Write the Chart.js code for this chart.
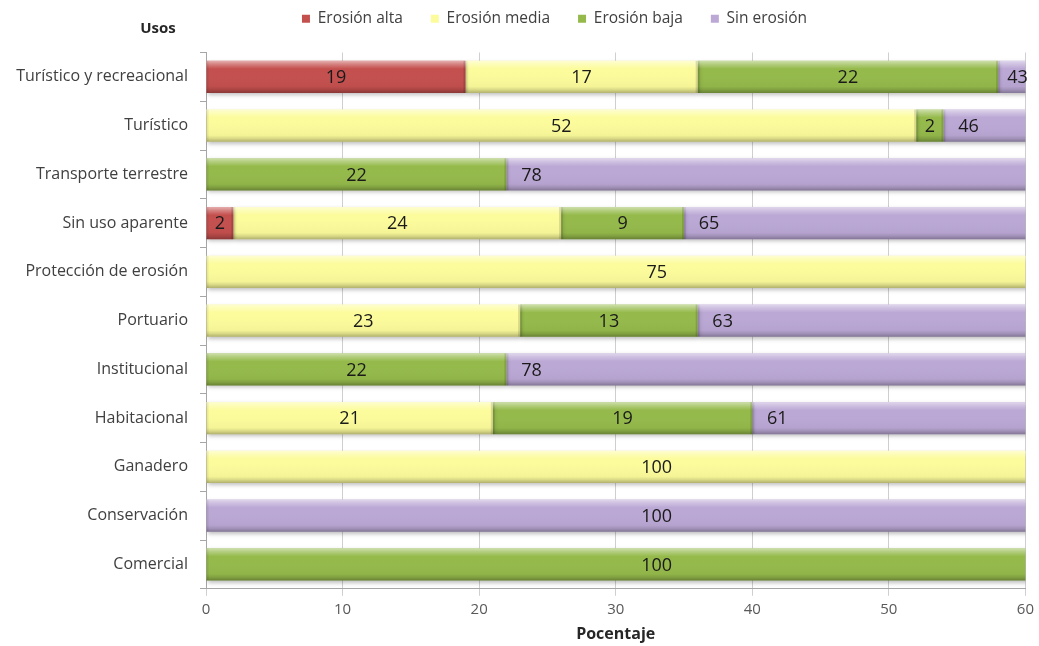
<!DOCTYPE html>
<html>
<head>
<meta charset="utf-8">
<title>Usos y erosión</title>
<script src="https://cdn.jsdelivr.net/npm/chart.js@4.4.1/dist/chart.umd.min.js"></script>
<style>
  html, body { margin: 0; padding: 0; background: #ffffff; }
  #wrap { width: 1039px; height: 646px; position: relative; }
</style>
</head>
<body>
<div id="wrap"><canvas id="chart" width="1039" height="646"></canvas></div>
<script>
// Land uses (top to bottom) and the share of each erosion class, in percent
const usos = [
  'Turístico y recreacional', 'Turístico', 'Transporte terrestre', 'Sin uso aparente',
  'Protección de erosión', 'Portuario', 'Institucional', 'Habitacional',
  'Ganadero', 'Conservación', 'Comercial'
];
const erosionAlta  = [19, 0, 0, 2, 0, 0, 0, 0, 0, 0, 0];
const erosionMedia = [17, 52, 0, 24, 75, 23, 0, 21, 100, 0, 0];
const erosionBaja  = [22, 2, 22, 9, 0, 13, 22, 19, 0, 0, 100];
const sinErosion   = [43, 46, 78, 65, 0, 63, 78, 61, 0, 100, 0];
const serieNombres = ['Erosión alta', 'Erosión media', 'Erosión baja', 'Sin erosión'];
const ejeTicks = [0, 10, 20, 30, 40, 50, 60];

const colores = ['#C4504E', '#FCFC9C', '#95BA4B', '#BBA8D5'];
const FONT = '"Open Sans", Lato, sans-serif';

// Bevelled shading over each bar segment plus a soft drop shadow
const barShading = {
  id: 'barShading',
  beforeDatasetDraw(chart) {
    const ctx = chart.ctx;
    ctx.save();
    ctx.shadowColor = 'rgba(0,0,0,0.25)';
    ctx.shadowBlur = 4;
    ctx.shadowOffsetX = 1;
    ctx.shadowOffsetY = 2;
  },
  afterDatasetDraw(chart) {
    chart.ctx.restore();
  },
  afterDatasetsDraw(chart) {
    const ctx = chart.ctx;
    const area = chart.chartArea;
    ctx.save();
    ctx.beginPath();
    ctx.rect(area.left, area.top, area.right - area.left, area.bottom - area.top);
    ctx.clip();
    chart.data.datasets.forEach((ds, di) => {
      const meta = chart.getDatasetMeta(di);
      if (meta.hidden) return;
      meta.data.forEach((bar, i) => {
        if (!ds.data[i]) return;
        const p = bar.getProps(['x', 'y', 'base', 'height'], true);
        const l = Math.min(p.x, p.base), r = Math.max(p.x, p.base);
        const t = p.y - p.height / 2, b = p.y + p.height / 2;
        const g = ctx.createLinearGradient(0, t, 0, b);
        g.addColorStop(0, 'rgba(255,255,255,0.55)');
        g.addColorStop(0.1, 'rgba(255,255,255,0.3)');
        g.addColorStop(0.25, 'rgba(255,255,255,0.0)');
        g.addColorStop(0.8, 'rgba(0,0,0,0.03)');
        g.addColorStop(0.9, 'rgba(0,0,0,0.14)');
        g.addColorStop(1, 'rgba(0,0,0,0.3)');
        ctx.fillStyle = g;
        ctx.fillRect(l, t, r - l, b - t);
        // darker seams at both ends of the segment
        ctx.fillStyle = 'rgba(0,0,0,0.13)';
        ctx.fillRect(r - 2, t, 2, b - t);
        ctx.fillStyle = 'rgba(0,0,0,0.07)';
        ctx.fillRect(l, t, 2, b - t);
      });
    });
    ctx.restore();
  }
};

// Value labels inside the segments, kept within the visible plot
const valueLabels = {
  id: 'valueLabels',
  afterDatasetsDraw(chart) {
    const ctx = chart.ctx;
    const area = chart.chartArea;
    ctx.save();
    ctx.font = '18px ' + FONT;
    ctx.fillStyle = '#1a1a1a';
    ctx.textAlign = 'center';
    ctx.textBaseline = 'middle';
    chart.data.datasets.forEach((ds, di) => {
      const meta = chart.getDatasetMeta(di);
      meta.data.forEach((bar, i) => {
        const v = ds.data[i];
        if (!v) return;
        const p = bar.getProps(['x', 'y', 'base'], true);
        const l = Math.min(p.x, p.base), r = Math.max(p.x, p.base);
        let x;
        if (r <= area.right + 0.5) {
          x = (l + r) / 2;
        } else if (l > area.left + 1) {
          x = Math.min(l + 25, area.right - 8);
        } else {
          x = area.left + (area.right - area.left) * 0.55;
        }
        ctx.fillText(String(v), x, p.y + 1);
      });
    });
    ctx.restore();
  }
};

// Category-axis heading above the labels
const axisHeading = {
  id: 'axisHeading',
  afterDraw(chart) {
    const ctx = chart.ctx;
    ctx.save();
    ctx.font = 'bold 15px ' + FONT;
    ctx.fillStyle = '#262626';
    ctx.textAlign = 'center';
    ctx.textBaseline = 'middle';
    ctx.fillText('Usos', 158, 29);
    ctx.restore();
  }
};

// Extra room under the legend, and the legend row moved a little right of centre
const legendPlacement = {
  id: 'legendPlacement',
  beforeInit(chart) {
    const fit = chart.legend.fit;
    chart.legend.fit = function () {
      fit.call(this);
      this.height += 16;
    };
  },
  afterLayout(chart) {
    const lg = chart.legend;
    const shift = chart.width / 2 + 35 - (lg.left + lg.right) / 2;
    lg.left += shift;
    lg.right += shift;
  }
};

const series = [erosionAlta, erosionMedia, erosionBaja, sinErosion];

new Chart(document.getElementById('chart'), {
  type: 'bar',
  data: {
    labels: usos,
    datasets: series.map((d, k) => ({
      label: serieNombres[k],
      data: d,
      backgroundColor: colores[k],
      borderWidth: 0,
      categoryPercentage: 1,
      barPercentage: 0.66
    }))
  },
  options: {
    indexAxis: 'y',
    responsive: false,
    animation: false,
    devicePixelRatio: 1,
    layout: { padding: { top: -17, right: 12, left: 0, bottom: 2 } },
    plugins: {
      legend: {
        position: 'top',
        labels: {
          boxWidth: 8,
          boxHeight: 8,
          padding: 28,
          color: '#404040',
          font: { family: FONT, size: 15.5 }
        }
      },
      tooltip: { enabled: false }
    },
    scales: {
      x: {
        stacked: true,
        min: 0,
        max: 60,
        afterBuildTicks(scale) { scale.ticks = ejeTicks.map(v => ({ value: v })); },
        grid: { color: '#cfcfcf', tickLength: 7, drawTicks: true },
        border: { color: '#a6a6a6' },
        ticks: { color: '#595959', font: { family: FONT, size: 15 }, padding: 5 },
        title: {
          display: true,
          text: 'Pocentaje',
          color: '#262626',
          font: { family: FONT, size: 16, weight: 'bold' },
          padding: { top: 1, bottom: 0 }
        }
      },
      y: {
        stacked: true,
        afterFit(scale) { scale.width = 206; },
        grid: { offset: true, drawOnChartArea: false, tickLength: 6, color: '#a6a6a6' },
        border: { color: '#a6a6a6' },
        ticks: { color: '#404040', font: { family: FONT, size: 16 }, padding: 12 }
      }
    }
  },
  plugins: [legendPlacement, barShading, valueLabels, axisHeading]
});
</script>
</body>
</html>
